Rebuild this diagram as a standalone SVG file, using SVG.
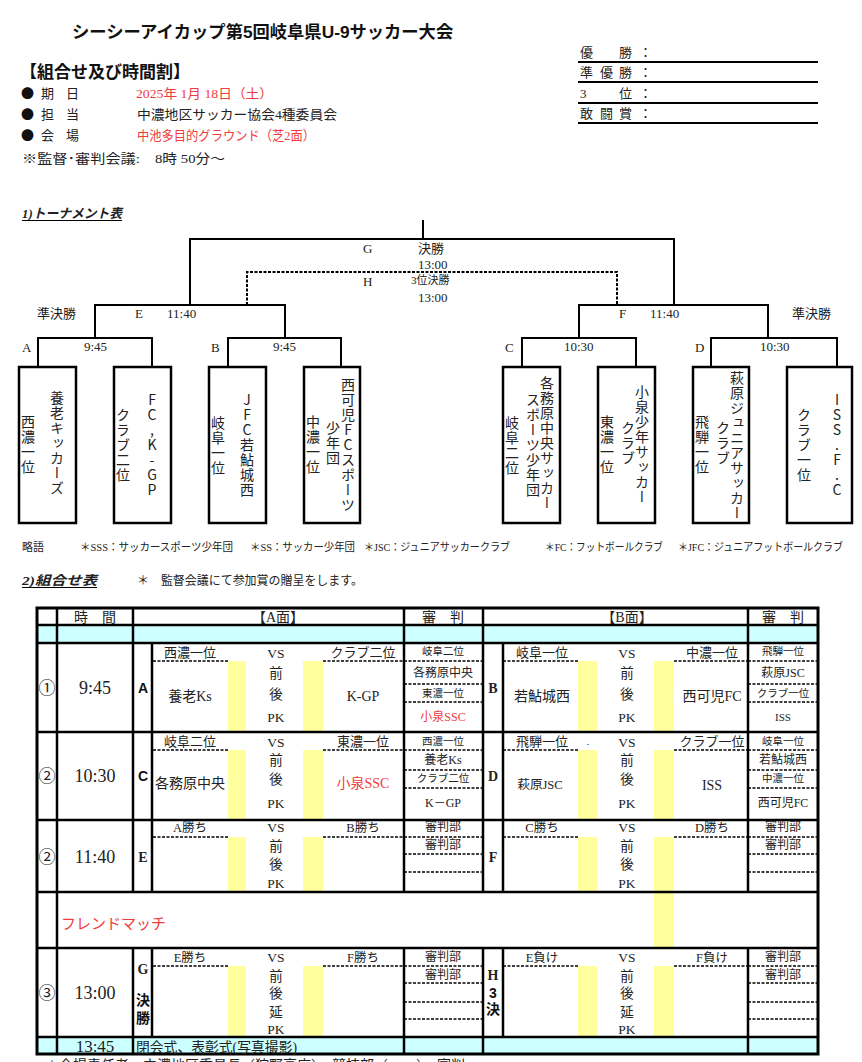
<svg xmlns="http://www.w3.org/2000/svg" width="862" height="1062" viewBox="0 0 862 1062">
<style>
.s{font-family:"Liberation Serif","Noto Sans CJK JP",serif;fill:#222}
.g{font-family:"Liberation Sans","Noto Sans CJK JP",sans-serif;fill:#111}
.k{font-family:"Noto Sans CJK JP",sans-serif;fill:#111}
.b{font-weight:bold}
.r{fill:#f03c3c}
.c{text-anchor:middle}
.v{writing-mode:vertical-rl;text-orientation:upright;font-family:"Noto Sans CJK JP",sans-serif;font-size:14px;letter-spacing:1px;fill:#222}
.ln{stroke:#000;stroke-width:2;fill:none}
.dh{stroke:#000;stroke-width:2;fill:none;stroke-dasharray:3 1.5}
.dl{stroke:#000;stroke-width:1.5;fill:none;stroke-dasharray:3 1.5}
.bx{fill:#fff;stroke:#000;stroke-width:2.5}
.y{fill:#ffff9e}
.cy{fill:#ccffff}
.tl{stroke:#000;stroke-width:2.5;fill:none}
</style>
<rect width="862" height="1062" fill="#fff"/>

<g id="header">
<text class="g b" x="72" y="38" font-size="17.3">シーシーアイカップ第5回岐阜県U-9サッカー大会</text>
<text class="g b" x="20" y="78" font-size="17">【組合せ及び時間割】</text>
<g class="k" font-size="13">
<text x="21" y="98">●</text><text x="21" y="119">●</text><text x="21" y="140">●</text>
</g>
<g class="s" font-size="13">
<text x="41" y="98">期</text><text x="66" y="98">日</text>
<text x="41" y="119">担</text><text x="66" y="119">当</text>
<text x="41" y="140">会</text><text x="66" y="140">場</text>
<text class="r" x="136" y="98" textLength="137" lengthAdjust="spacingAndGlyphs">2025年  1月  18日（土）</text>
<text x="137" y="119" textLength="200" lengthAdjust="spacingAndGlyphs">中濃地区サッカー協会4種委員会</text>
<text class="r" x="137" y="140" textLength="178" lengthAdjust="spacingAndGlyphs">中池多目的グラウンド（芝2面）</text>
<text x="22" y="163" textLength="118" lengthAdjust="spacingAndGlyphs">※監督･審判会議:</text>
<text x="155" y="163" textLength="70" lengthAdjust="spacingAndGlyphs">8時 50分～</text>
</g>
</g>

<g id="awards" class="s" font-size="13">
<text x="580 619 639" y="57">優勝：</text>
<text x="580 600 619 639" y="77">準優勝：</text>
<text x="580 619 639" y="98">3位：</text>
<text x="580 600 619 639" y="118">敢闘賞：</text>
<path class="ln" d="M578,62H818M578,82H818M578,103H818M578,123H818"/>
</g>

<g id="section1">
<text class="s b" x="22" y="218" font-size="13" font-style="italic" textLength="100" lengthAdjust="spacingAndGlyphs">1)トーナメント表</text>
<line x1="22" y1="220.5" x2="122" y2="220.5" stroke="#000" stroke-width="1.2"/>
</g>

<g id="connectors">
<path class="ln" d="M423,220V239"/>
<path class="ln" d="M190,305V239H674V305"/>
<path class="dh" d="M247,305V272H617V305"/>
<path class="ln" d="M95,338V305H285V338"/>
<path class="ln" d="M38,367V338H152V367"/>
<path class="ln" d="M228,367V338H341V367"/>
<path class="ln" d="M579,338V305H768V338"/>
<path class="ln" d="M522,367V338H636V367"/>
<path class="ln" d="M711,367V338H837V367"/>
</g>

<g id="bracket-labels" class="s" font-size="13">
<text x="37" y="318">準決勝</text>
<text x="135" y="318">E</text><text x="167" y="318">11:40</text>
<text x="22" y="352">A</text><text x="84" y="351">9:45</text>
<text x="211" y="352">B</text><text x="273" y="351">9:45</text>
<text x="363" y="253">G</text><text x="418" y="253">決勝</text><text x="418" y="269">13:00</text>
<text x="363" y="286">H</text><text x="411" y="284" font-size="11">3位決勝</text><text x="418" y="302">13:00</text>
<text x="619" y="318">F</text><text x="650" y="318">11:40</text>
<text x="792" y="318">準決勝</text>
<text x="505" y="352">C</text><text x="564" y="351">10:30</text>
<text x="695" y="352">D</text><text x="760" y="351">10:30</text>
</g>

<g id="team1"><rect class="bx" x="19" y="367" width="57" height="156"/>
<text class="v" x="28" y="415">西濃一位</text><text class="v" x="57" y="391">養老キッカーズ</text></g>
<g id="team2"><rect class="bx" x="114" y="367" width="57" height="156"/>
<text class="v" x="123" y="408">クラブ二位</text><text class="v" x="152" y="393">FC,K-GP</text></g>
<g id="team3"><rect class="bx" x="209" y="367" width="57" height="156"/>
<text class="v" x="218" y="416">岐阜一位</text><text class="v" x="247" y="393">JFC若鮎城西</text></g>
<g id="team4"><rect class="bx" x="304" y="367" width="56" height="156"/>
<text class="v" x="313" y="415">中濃一位</text><text class="v" x="333" y="421">少年団</text><text class="v" x="348" y="378">西可児FCスポーツ</text></g>
<g id="team5"><rect class="bx" x="503" y="367" width="57" height="156"/>
<text class="v" x="512" y="416">岐阜二位</text><text class="v" x="533" y="393">スポーツ少年団</text><text class="v" x="547" y="376">各務原中央サッカー</text></g>
<g id="team6"><rect class="bx" x="598" y="367" width="57" height="156"/>
<text class="v" x="607" y="415">東濃一位</text><text class="v r" x="628" y="421">クラブ</text><text class="v r" x="642" y="385">小泉少年サッカー</text></g>
<g id="team7"><rect class="bx" x="693" y="367" width="56" height="156"/>
<text class="v" x="702" y="415">飛騨一位</text><text class="v" x="723" y="421">クラブ</text><text class="v" x="737" y="371">萩原ジュニアサッカー</text></g>
<g id="team8"><rect class="bx" x="787" y="367" width="65" height="156"/>
<text class="v" x="804" y="408">クラブ一位</text><text class="v" x="837" y="393">ISS.F.C</text></g>

<g id="abbrev" class="s" font-size="11">
<text x="22" y="551">略語</text>
<text x="80" y="551" textLength="153" lengthAdjust="spacingAndGlyphs">＊SSS：サッカースポーツ少年団</text>
<text x="250" y="551" textLength="105" lengthAdjust="spacingAndGlyphs">＊SS：サッカー少年団</text>
<text x="364" y="551" textLength="146" lengthAdjust="spacingAndGlyphs">＊JSC：ジュニアサッカークラブ</text>
<text x="545" y="551" textLength="118" lengthAdjust="spacingAndGlyphs">＊FC：フットボールクラブ</text>
<text x="678" y="551" textLength="165" lengthAdjust="spacingAndGlyphs">＊JFC：ジュニアフットボールクラブ</text>
</g>

<g id="section2">
<text class="s b" x="22" y="585" font-size="13" font-style="italic" textLength="75" lengthAdjust="spacingAndGlyphs">2)組合せ表</text>
<line x1="22" y1="587.5" x2="97" y2="587.5" stroke="#000" stroke-width="1.2"/>
<text class="s" x="137" y="585" font-size="12.5" textLength="226" lengthAdjust="spacingAndGlyphs">＊　監督会議にて参加賞の贈呈をします。</text>
</g>

<g id="table">
<rect class="cy" x="37" y="625" width="781" height="18"/>
<rect class="cy" x="37" y="1037" width="781" height="17"/>
<g class="y">
<rect x="228" y="661" width="18" height="71"/><rect x="303" y="661" width="20" height="71"/>
<rect x="578" y="661" width="19" height="71"/><rect x="654" y="661" width="20" height="71"/>
<rect x="228" y="750" width="18" height="70"/><rect x="303" y="750" width="20" height="70"/>
<rect x="578" y="750" width="19" height="70"/><rect x="654" y="750" width="20" height="70"/>
<rect x="228" y="837" width="18" height="55"/><rect x="303" y="837" width="20" height="55"/>
<rect x="578" y="837" width="19" height="55"/><rect x="654" y="837" width="20" height="111"/>
<rect x="228" y="966" width="18" height="71"/><rect x="303" y="966" width="20" height="71"/>
<rect x="578" y="966" width="19" height="71"/><rect x="654" y="966" width="20" height="71"/>
</g>
<path class="tl" d="M37,625H818M37,643H818M37,732H818M37,820H818M37,892H818M37,948H818M37,1037H818"/>
<path class="tl" d="M57,608V1054M133,608V892M133,948V1054M152,643V892M152,948V1037M404,608V892M404,948V1054M483,608V892M483,948V1054M503,643V892M503,948V1037M748,608V892M748,948V1054"/>
<path class="dl" d="M153,661H228M323,661H404M503,661H578M674,661H748
M153,750H228M323,750H404M503,750H578M674,750H748
M153,837H228M323,837H404M503,837H578M674,837H748
M153,966H228M323,966H404M503,966H578M674,966H748
M404,661H483M404,684H483M404,702H483M748,661H818M748,684H818M748,702H818
M404,750H483M404,770H483M404,788H483M748,750H818M748,770H818M748,788H818
M404,837H483M404,854H483M404,872H483M748,837H818M748,854H818M748,872H818
M404,966H483M404,983H483M404,1002H483M404,1019H483M748,966H818M748,983H818M748,1002H818M748,1019H818"/>
<rect x="37" y="608" width="781" height="446" fill="none" stroke="#000" stroke-width="3"/>

<g class="s c" font-size="14">
<text x="95" y="622">時　間</text>
<text x="278" y="622">【A面】</text>
<text x="443" y="622">審　判</text>
<text x="627" y="622">【B面】</text>
<text x="783" y="622">審　判</text>
</g>

<g class="s c" font-size="17">
<text x="47" y="694">①</text><text x="47" y="782">②</text><text x="47" y="863">②</text><text x="47" y="999">③</text>
</g>
<g class="s c" font-size="18">
<text x="95" y="694">9:45</text><text x="95" y="782">10:30</text><text x="95" y="863">11:40</text><text x="95" y="999">13:00</text>
</g>
<g class="b c" font-size="14">
<text class="g" x="143" y="693">A</text>
<text class="g" x="143" y="781">C</text>
<text class="s" x="143" y="862">E</text>
<text class="s" x="143" y="974">G</text>
<text class="g" x="143" y="1005">決</text>
<text class="g" x="143" y="1023">勝</text>
<text class="s" x="493" y="693">B</text>
<text class="s" x="493" y="781">D</text>
<text class="s" x="493" y="862">F</text>
<text class="s" x="493" y="980">H</text>
<text class="g" x="493" y="998">3</text>
<text class="g" x="493" y="1014">決</text>
</g>

<g class="s c" font-size="13.5">
<text x="276" y="658">VS</text><text x="276" y="678">前</text><text x="276" y="699">後</text><text x="276" y="722">PK</text>
<text x="627" y="658">VS</text><text x="627" y="678">前</text><text x="627" y="699">後</text><text x="627" y="722">PK</text>
<text x="276" y="747">VS</text><text x="276" y="765">前</text><text x="276" y="784">後</text><text x="276" y="808">PK</text>
<text x="627" y="747">VS</text><text x="627" y="765">前</text><text x="627" y="784">後</text><text x="627" y="808">PK</text>
<text x="276" y="832">VS</text><text x="276" y="851">前</text><text x="276" y="869">後</text><text x="276" y="888">PK</text>
<text x="627" y="832">VS</text><text x="627" y="851">前</text><text x="627" y="869">後</text><text x="627" y="888">PK</text>
<text x="276" y="962">VS</text><text x="276" y="981">前</text><text x="276" y="998">後</text><text x="276" y="1017">延</text><text x="276" y="1034">PK</text>
<text x="627" y="962">VS</text><text x="627" y="981">前</text><text x="627" y="998">後</text><text x="627" y="1017">延</text><text x="627" y="1034">PK</text>
</g>
<g class="s c" font-size="13">
<text x="190" y="657">西濃一位</text><text x="363" y="657">クラブ二位</text>
<text x="542" y="657">岐阜一位</text><text x="712" y="657">中濃一位</text>
<text x="190" y="746">岐阜二位</text><text x="363" y="746">東濃一位</text>
<text x="542" y="746">飛騨一位</text><text x="588" y="745" font-size="10">.</text><text x="712" y="746">クラブ一位</text>
<text x="190" y="832" font-size="12.5">A勝ち</text><text x="363" y="832" font-size="12.5">B勝ち</text>
<text x="542" y="832" font-size="12.5">C勝ち</text><text x="712" y="832" font-size="12.5">D勝ち</text>
<text x="190" y="962" font-size="12.5">E勝ち</text><text x="363" y="962" font-size="12.5">F勝ち</text>
<text x="542" y="962" font-size="12.5">E負け</text><text x="712" y="962" font-size="12.5">F負け</text>
</g>

<g class="s c" font-size="14">
<text x="190" y="701">養老Ks</text><text x="363" y="701">K-GP</text>
<text x="542" y="701">若鮎城西</text><text x="712" y="701">西可児FC</text>
<text x="190" y="788">各務原中央</text><text class="r" x="363" y="788">小泉SSC</text>
<text x="540" y="789" font-size="12.5">萩原JSC</text><text x="712" y="790">ISS</text>
</g>

<g class="s c" font-size="12">
<text x="443" y="655" font-size="10.5">岐阜二位</text><text x="443" y="677">各務原中央</text><text x="443" y="697" font-size="10.5">東濃一位</text><text class="r" x="443" y="721">小泉SSC</text>
<text x="783" y="655" font-size="10.5">飛騨一位</text><text x="783" y="677">萩原JSC</text><text x="783" y="697" font-size="10.5">クラブ一位</text><text x="783" y="721" font-size="11">ISS</text>
<text x="443" y="745" font-size="10.5">西濃一位</text><text x="443" y="764">養老Ks</text><text x="443" y="782" font-size="10.5">クラブ二位</text><text x="443" y="807">K－GP</text>
<text x="783" y="745" font-size="10.5">岐阜一位</text><text x="783" y="764">若鮎城西</text><text x="783" y="782" font-size="10.5">中濃一位</text><text x="783" y="807">西可児FC</text>
<text x="443" y="831">審判部</text><text x="443" y="849">審判部</text>
<text x="783" y="831">審判部</text><text x="783" y="849">審判部</text>
<text x="443" y="961">審判部</text><text x="443" y="979">審判部</text>
<text x="783" y="961">審判部</text><text x="783" y="979">審判部</text>
</g>

<text class="s r" x="61" y="929" font-size="15">フレンドマッチ</text>
<text class="s c" x="95" y="1052" font-size="17">13:45</text>
<text class="s" x="136" y="1052" font-size="14" textLength="161" lengthAdjust="spacingAndGlyphs">閉会式、表彰式(写真撮影)</text>
</g>

<text class="s" x="45" y="1070" font-size="14">＊会場責任者　中濃地区委員長（狩野高広）　競技部（　　）　審判</text>
</svg>
